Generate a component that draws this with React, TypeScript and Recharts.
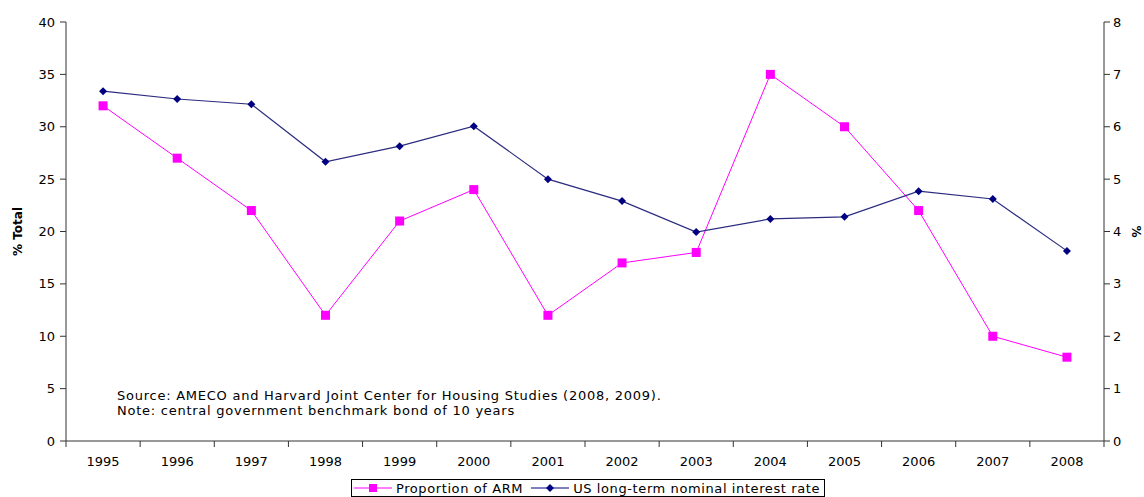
import React from "react";
import { LineChart, Line, XAxis, YAxis, Legend, Label } from "recharts";

const YEARS = ["1995","1996","1997","1998","1999","2000","2001","2002","2003","2004","2005","2006","2007","2008"];
const ARM_SHARE = [32, 27, 22, 12, 21, 24, 12, 17, 18, 35, 30, 22, 10, 8];
const US_RATE = [6.68, 6.53, 6.43, 5.33, 5.63, 6.01, 5.0, 4.58, 3.99, 4.24, 4.28, 4.77, 4.62, 3.63];
const LEFT_TICKS = [0, 5, 10, 15, 20, 25, 30, 35, 40];
const RIGHT_TICKS = [0, 1, 2, 3, 4, 5, 6, 7, 8];

const W = 1144;
const H = 497;
const MARGIN = { top: 22, right: 10, left: 16, bottom: 0 };
const LEFT_AXIS_W = 50;
const RIGHT_AXIS_W = 30;
const FONT = "'DejaVu Sans', Arial, sans-serif";
const AXIS = "#333";

const rows = YEARS.map((year, i) => ({ year, arm: ARM_SHARE[i], rate: US_RATE[i] }));

const plotW = W - MARGIN.left - MARGIN.right - LEFT_AXIS_W - RIGHT_AXIS_W;
const band = plotW / YEARS.length;

// Excel style: tick marks between categories, label centred in the band
function YearTick(props: any) {
  const { x, y, payload, index } = props;
  return (
    <g>
      {index === 0 && <line x1={x - band / 2} x2={x - band / 2} y1={y} y2={y + 6} stroke={AXIS} />}
      <line x1={x + band / 2} x2={x + band / 2} y1={y} y2={y + 6} stroke={AXIS} />
      <text x={x} y={y + 25} textAnchor="middle" fontSize={13} fontFamily={FONT} fill="#000">
        {payload.value}
      </text>
    </g>
  );
}

function SquareDot(props: any) {
  const { cx, cy } = props;
  if (cx == null || cy == null) return null;
  return <rect x={cx - 4.5} y={cy - 4.5} width={9} height={9} fill="#ff00ff" />;
}

function DiamondDot(props: any) {
  const { cx, cy } = props;
  if (cx == null || cy == null) return null;
  return <path d={`M${cx},${cy - 4}L${cx + 4},${cy}L${cx},${cy + 4}L${cx - 4},${cy}Z`} fill="#000080" />;
}

function LegendBox() {
  return (
    <div style={{ display: "flex", justifyContent: "center", paddingLeft: 26 }}>
      <div
        style={{
          border: "1px solid #000",
          display: "flex",
          alignItems: "center",
          gap: 4,
          padding: "0 4px 0 2px",
          height: 16,
          fontFamily: FONT,
          fontSize: 13,
          letterSpacing: 0.6,
          color: "#000",
        }}
      >
        <svg width={38} height={10}>
          <line x1={0} x2={38} y1={5} y2={5} stroke="#ff00ff" />
          <rect x={15} y={1} width={8} height={8} fill="#ff00ff" />
        </svg>
        <span>Proportion of ARM</span>
        <svg width={38} height={10} style={{ marginLeft: 4 }}>
          <line x1={0} x2={38} y1={5} y2={5} stroke="#000080" />
          <path d="M19,1L23,5L19,9L15,5Z" fill="#000080" />
        </svg>
        <span>US long-term nominal interest rate</span>
      </div>
    </div>
  );
}

export default function App() {
  return (
    <div style={{ position: "absolute", left: 0, top: 0, width: W, height: H, background: "#fff" }}>
      <LineChart width={W} height={H} data={rows} margin={MARGIN}>
        <XAxis
          dataKey="year"
          scale="band"
          interval={0}
          tickLine={false}
          tickSize={0}
          tickMargin={0}
          height={38}
          stroke={AXIS}
          tick={<YearTick />}
        />
        <YAxis
          yAxisId="left"
          domain={[0, 40]}
          ticks={LEFT_TICKS}
          width={LEFT_AXIS_W}
          stroke={AXIS}
          tickSize={6}
          tickMargin={5}
          tick={{ fontSize: 13, fontFamily: FONT, fill: "#000" }}
        >
          <Label
            value="% Total"
            angle={-90}
            position="insideLeft"
            offset={2}
            style={{ fontSize: 12, fontFamily: FONT, fontWeight: "bold", fill: "#000", textAnchor: "middle" }}
          />
        </YAxis>
        <YAxis
          yAxisId="right"
          orientation="right"
          domain={[0, 8]}
          ticks={RIGHT_TICKS}
          width={RIGHT_AXIS_W}
          stroke={AXIS}
          tickSize={6}
          tickMargin={3}
          tick={{ fontSize: 13, fontFamily: FONT, fill: "#000" }}
        >
          <Label
            value="%"
            angle={90}
            position="insideRight"
            offset={-2}
            style={{ fontSize: 12, fontFamily: FONT, fontWeight: "bold", fill: "#000", textAnchor: "middle" }}
          />
        </YAxis>
        <Legend verticalAlign="bottom" content={<LegendBox />} wrapperStyle={{ bottom: 0 }} />
        <Line
          yAxisId="left"
          dataKey="arm"
          name="Proportion of ARM"
          stroke="#ff00ff"
          strokeWidth={1}
          dot={<SquareDot />}
          activeDot={false}
          isAnimationActive={false}
        />
        <Line
          yAxisId="right"
          dataKey="rate"
          name="US long-term nominal interest rate"
          stroke="#2b2b80"
          strokeWidth={1.2}
          dot={<DiamondDot />}
          activeDot={false}
          isAnimationActive={false}
        />
      </LineChart>
      <div
        style={{
          position: "absolute",
          left: 117,
          top: 388,
          fontFamily: FONT,
          fontSize: 13,
          letterSpacing: 0.75,
          lineHeight: "15px",
          color: "#000",
        }}
      >
        Source: AMECO and Harvard Joint Center for Housing Studies (2008, 2009).
        <br />
        Note: central government benchmark bond of 10 years
      </div>
    </div>
  );
}
